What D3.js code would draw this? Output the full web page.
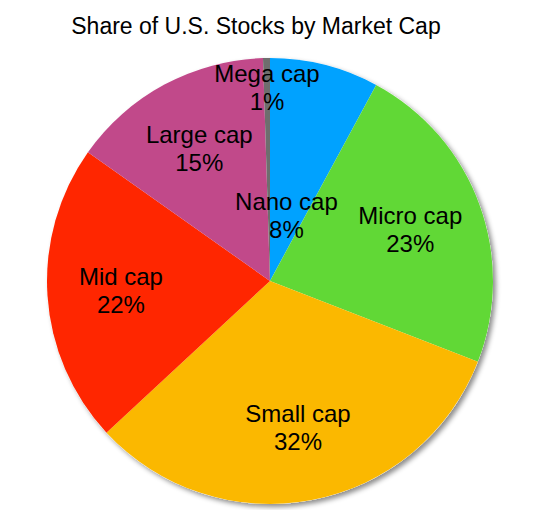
<!DOCTYPE html>
<html>
<head>
<meta charset="utf-8">
<script src="https://cdn.jsdelivr.net/npm/d3@7"></script>
<style>
  body { margin: 0; background: #fff; }
  text { font-family: "Liberation Sans", Arial, sans-serif; fill: #000; }
</style>
</head>
<body>
<div id="chart"></div>
<script>
// slices in clockwise order from 12 o'clock
var categories = ["Nano cap", "Micro cap", "Small cap", "Mid cap", "Large cap", "Mega cap"];
var shares = [7.9, 23.0, 32.2, 21.7, 14.7, 0.5];
var colors = ["#00a2ff", "#61d836", "#fbb800", "#ff2600", "#c1498a", "#6e6e6e"];
var title = "Share of U.S. Stocks by Market Cap";

var width = 552, height = 510;
var cx = 270, cy = 281, radius = 223;

var data = categories.map(function(c, i) { return { name: c, value: shares[i], color: colors[i] }; });

var svg = d3.select("#chart").append("svg")
  .attr("width", width)
  .attr("height", height);

var defs = svg.append("defs");
var shadow = defs.append("filter")
  .attr("id", "shadow")
  .attr("x", "-10%").attr("y", "-10%")
  .attr("width", "120%").attr("height", "120%");
shadow.append("feDropShadow")
  .attr("dx", 3).attr("dy", 3)
  .attr("stdDeviation", 2.5)
  .attr("flood-color", "#000")
  .attr("flood-opacity", 0.45);

svg.append("text")
  .attr("x", 256)
  .attr("y", 34)
  .attr("text-anchor", "middle")
  .style("font-size", "23px")
  .text(title);

var pie = d3.pie()
  .sort(null)
  .value(function(d) { return d.value; });

var arc = d3.arc()
  .innerRadius(0)
  .outerRadius(radius);

var arcs = pie(data);

var g = svg.append("g")
  .attr("transform", "translate(" + cx + "," + cy + ")");

// shadow under the whole disc
g.append("circle")
  .attr("r", radius)
  .attr("fill", "#fff")
  .attr("filter", "url(#shadow)");

g.selectAll("path.slice")
  .data(arcs)
  .enter().append("path")
  .attr("class", "slice")
  .attr("d", arc)
  .attr("fill", function(d) { return d.data.color; });

// small slices get their labels pulled in or pushed out
function labelRadius(d) {
  if (d.data.name === "Nano cap") return radius * 0.3;
  if (d.data.name === "Mega cap") return radius * 0.865;
  return radius * 0.67;
}

var labels = g.selectAll("g.label")
  .data(arcs)
  .enter().append("g")
  .attr("class", "label")
  .attr("transform", function(d) {
    var a = (d.startAngle + d.endAngle) / 2;
    var r = labelRadius(d);
    return "translate(" + (Math.sin(a) * r) + "," + (-Math.cos(a) * r) + ")";
  });

labels.append("text")
  .attr("text-anchor", "middle")
  .attr("y", -6)
  .style("font-size", "24px")
  .text(function(d) { return d.data.name; });

labels.append("text")
  .attr("text-anchor", "middle")
  .attr("y", 22)
  .style("font-size", "24px")
  .text(function(d) { return Math.round(d.data.value) + "%"; });
</script>
</body>
</html>
